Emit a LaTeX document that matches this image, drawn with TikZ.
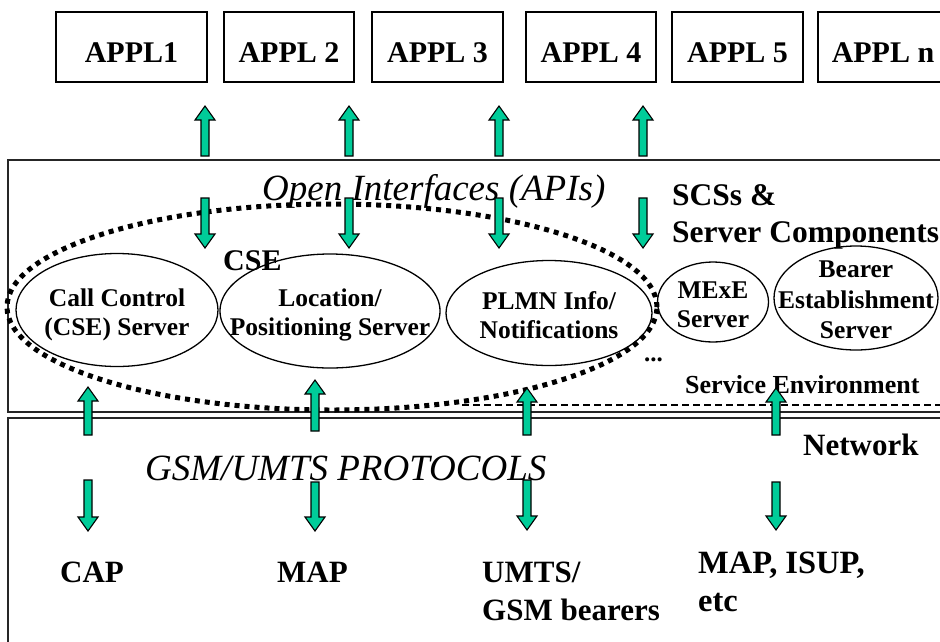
\documentclass[tikz,border=0pt]{standalone}
\usepackage{fontspec}
\setmainfont{Liberation Serif}
\usetikzlibrary{shapes.geometric}
\definecolor{arrowgreen}{RGB}{0,204,153}
\newcommand\blkup[3]{\draw[blk] (#1,#2) -- (#1+10,#2+14) -- (#1+4,#2+14) -- (#1+4,#3) -- (#1-4,#3) -- (#1-4,#2+14) -- (#1-10,#2+14) -- cycle;}
\newcommand\blkdown[3]{\draw[blk] (#1,#3) -- (#1+10,#3-14) -- (#1+4,#3-14) -- (#1+4,#2) -- (#1-4,#2) -- (#1-4,#3-14) -- (#1-10,#3-14) -- cycle;}
\begin{document}
\begin{tikzpicture}[x=1pt,y=-1pt,
  frame/.style={draw=black!85,line width=1.6pt},
  applbox/.style={draw,line width=1.3pt,minimum height=70pt,inner sep=0pt,
    font=\fontsize{30}{34}\selectfont\bfseries,text height=30pt,text depth=0pt},
  srv/.style={draw,ellipse,line width=1.3pt,inner sep=0pt},
  srvtext/.style={align=center,inner sep=0pt,font=\fontsize{25.5}{29}\selectfont\bfseries},
  lbl/.style={anchor=base west,inner sep=0pt,font=\fontsize{31}{35}\selectfont\bfseries},
  ital/.style={anchor=base west,inner sep=0pt,font=\fontsize{37}{41}\selectfont\itshape},
  blk/.style={draw=black,fill=arrowgreen,line width=1.1pt,line join=miter}]
\useasboundingbox (0,0) rectangle (940,641);
\clip (0,0) rectangle (940,641);

% application boxes
\node[applbox,minimum width=151pt] (a1) at (131.5,47) {APPL1};
\node[applbox,minimum width=130pt] (a2) at (289,47) {APPL 2};
\node[applbox,minimum width=131pt] (a3) at (437.5,47) {APPL 3};
\node[applbox,minimum width=130pt] (a4) at (591,47) {APPL 4};
\node[applbox,minimum width=131pt] (a5) at (737.5,47) {APPL 5};
\node[applbox,minimum width=130pt] (an) at (883,47) {APPL n};

% frames
\draw[frame] (960,160) -- (8,160) -- (8,412) -- (960,412);
\draw[frame] (960,418) -- (8,418) -- (8,660);
\draw[line width=1.8pt,dash pattern=on 7pt off 4pt] (462,405) -- (945,405);

% CSE dotted ellipse
\node[draw,ellipse,inner sep=0pt,minimum width=650pt,minimum height=206pt,
  line width=5pt,dash pattern=on 5pt off 5pt] (cse) at (332,307) {};

% servers
\node[srv,minimum width=202pt,minimum height=113pt] (cc) at (117,310) {};
\node[srv,minimum width=220pt,minimum height=114pt] (loc) at (330,311) {};
\node[srv,minimum width=206pt,minimum height=105pt] (plmn) at (549,313) {};
\node[srv,minimum width=111pt,minimum height=80pt] (mexe) at (713,302) {};
\node[srv,minimum width=164pt,minimum height=104pt] (bear) at (856,298) {};

\node[srvtext] (cct) at (117,314.5) {Call Control\\(CSE) Server};
\node[srvtext] (loct) at (330,314.5) {Location/\\Positioning Server};
\node[srvtext] (plmnt) at (549,315) {PLMN Info/\\Notifications};
\node[srvtext] (mexet) at (713,305) {MExE\\Server};
\node[srvtext,font=\fontsize{25.5}{30.5}\selectfont\bfseries] (beart) at (856,300) {Bearer\\Establishment\\Server};

% texts
\node[ital] (api) at (262,200) {Open Interfaces (APIs)};
\node[lbl,font=\fontsize{31.5}{35}\selectfont\bfseries] (scs1) at (672,205) {SCSs \&};
\node[lbl,font=\fontsize{31.5}{35}\selectfont\bfseries] (scs2) at (672,242) {Server Components};
\node[lbl,font=\fontsize{30}{34}\selectfont\bfseries] (cset) at (223,270) {CSE};
\node[lbl,font=\fontsize{25}{29}\selectfont\bfseries] (dots) at (644,361) {...};
\node[lbl,font=\fontsize{26}{30}\selectfont\bfseries] (senv) at (685,393) {Service Environment};
\node[ital] (gsm) at (145,480) {GSM/UMTS PROTOCOLS};
\node[lbl] (net) at (803,455) {Network};
\node[lbl] (cap) at (60,582) {CAP};
\node[lbl] (map) at (277,582) {MAP};
\node[lbl] (umts1) at (482,582) {UMTS/};
\node[lbl] (umts2) at (482,620) {GSM bearers};
\node[lbl,font=\fontsize{32.5}{36}\selectfont\bfseries] (isup1) at (698,573) {MAP, ISUP,};
\node[lbl,font=\fontsize{32.5}{36}\selectfont\bfseries] (isup2) at (698,611) {etc};

% arrows
\blkup{205}{106}{156}
\blkup{349}{106}{156}
\blkup{499}{106}{156}
\blkup{643}{106}{156}
\blkdown{205}{198}{248}
\blkdown{349}{198}{248}
\blkdown{499}{198}{248}
\blkdown{643}{198}{248}
\blkup{88}{387}{435}
\blkup{315}{380}{431}
\blkup{527}{388}{435}
\blkup{776}{388}{435}
\blkdown{88}{480}{531}
\blkdown{315}{482}{531}
\blkdown{527}{480}{530}
\blkdown{776}{482}{530}
\end{tikzpicture}
\end{document}
